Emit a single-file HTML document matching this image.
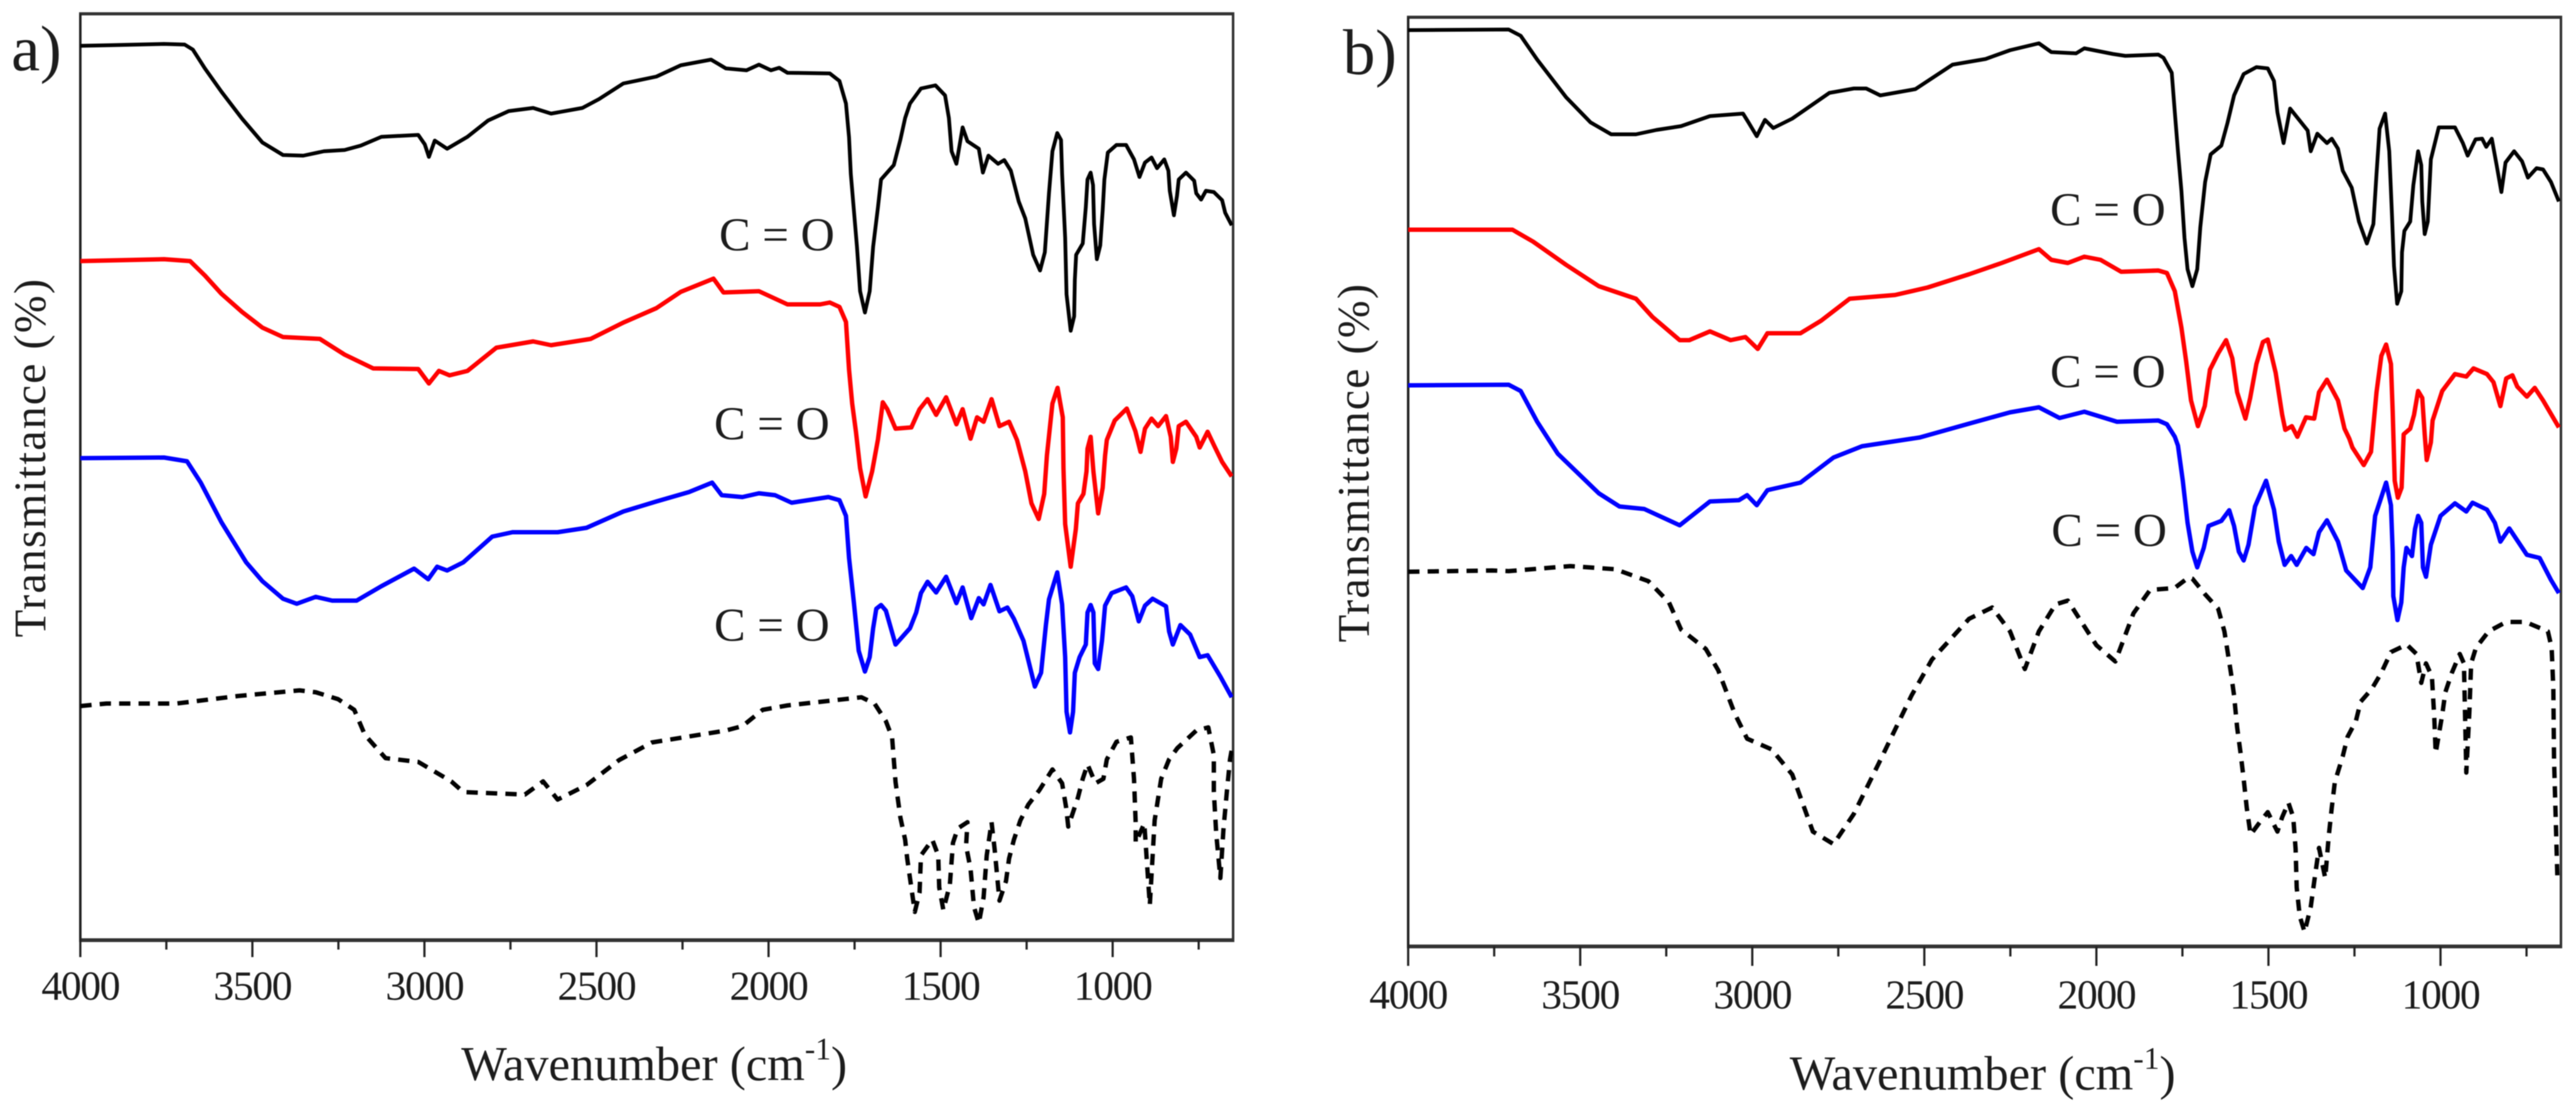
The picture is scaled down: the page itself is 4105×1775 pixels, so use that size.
<!DOCTYPE html>
<html lang="en">
<head>
<meta charset="utf-8">
<title>FTIR spectra panels a and b</title>
<style>
html,body{margin:0;padding:0;background:#fff;}
svg{display:block;filter:blur(0.7px);}
text{font-family:"Liberation Serif",serif;fill:#1c1c1c;}
</style>
</head>
<body>
<svg id="chart" width="4105" height="1775" viewBox="0 0 4105 1775" xmlns="http://www.w3.org/2000/svg">
  <rect width="4105" height="1775" fill="#fff"/>
  <defs>
    <clipPath id="clip-a"><rect x="128" y="22" width="1837" height="1476"/></clipPath>
    <clipPath id="clip-b"><rect x="2244" y="27" width="1837" height="1481"/></clipPath>
  </defs>
  <g id="panel-a"></g>
  <g id="panel-b"></g>

  <text x="18" y="112" font-size="103">a)</text>
  <text x="2140" y="118" font-size="103">b)</text>

  <text x="735" y="1721" font-size="77">Wavenumber (cm<tspan dy="-33" font-size="50">-1</tspan><tspan dy="33">)</tspan></text>
  <text x="2852" y="1736" font-size="77">Wavenumber (cm<tspan dy="-33" font-size="50">-1</tspan><tspan dy="33">)</tspan></text>

  <text transform="translate(72 730) rotate(-90)" text-anchor="middle" font-size="72" textLength="571">Transmittance (%)</text>
  <text transform="translate(2181 738) rotate(-90)" text-anchor="middle" font-size="72" textLength="571">Transmittance (%)</text>

  <text x="1146" y="399" font-size="75">C = O</text>
  <text x="1138" y="700" font-size="75">C = O</text>
  <text x="1138" y="1021" font-size="75">C = O</text>
  <text x="3267" y="359" font-size="75">C = O</text>
  <text x="3267" y="617" font-size="75">C = O</text>
  <text x="3269" y="870" font-size="75">C = O</text>
</svg>
<script>
const majorTickLabels = [4000, 3500, 3000, 2500, 2000, 1500, 1000];
const minorTickValues = [3750, 3250, 2750, 2250, 1750, 1250, 750];

const aBlackWn = [4000,3912,3757,3697,3673,3638,3590,3530,3471,3411,3352,3292,3232,3185,3125,3018,2999,2987,2970,2934,2875,2815,2755,2684,2632,2541,2493,2422,2326,2255,2167,2124,2064,2028,1993,1969,1945,1822,1794,1775,1766,1761,1752,1743,1734,1720,1706,1696,1682,1673,1636,1617,1603,1589,1557,1515,1487,1476,1468,1454,1436,1422,1389,1377,1361,1333,1315,1296,1273,1254,1231,1211,1197,1185,1175,1161,1150,1147,1138,1134,1122,1112,1110,1106,1087,1078,1073,1064,1057,1054,1046,1036,1029,1024,1014,989,961,938,922,906,887,871,850,838,834,822,813,808,787,763,757,743,729,706,682,673,654];
const aBlackT = [1425,1426,1428,1427,1419,1389,1352,1309,1271,1251,1250,1257,1259,1266,1280,1283,1268,1248,1274,1261,1280,1306,1321,1326,1317,1326,1340,1365,1376,1394,1403,1389,1386,1395,1386,1390,1382,1381,1369,1333,1279,1221,1163,1105,1034,1000,1034,1105,1168,1212,1235,1275,1310,1333,1357,1362,1346,1310,1257,1237,1295,1273,1261,1223,1250,1237,1243,1226,1177,1150,1092,1067,1096,1190,1257,1286,1275,1221,1119,1029,971,994,1052,1092,1110,1168,1212,1223,1203,1141,1085,1107,1163,1212,1255,1267,1267,1244,1216,1239,1247,1230,1244,1226,1194,1155,1186,1212,1223,1210,1190,1180,1194,1192,1179,1159,1139];

const aRedWn = [4000,3757,3681,3638,3590,3530,3471,3411,3304,3232,3149,3018,2987,2958,2927,2875,2791,2684,2632,2517,2422,2326,2255,2160,2131,2028,1945,1850,1822,1794,1775,1766,1757,1746,1734,1718,1699,1682,1668,1655,1631,1585,1561,1538,1513,1484,1454,1436,1413,1394,1375,1352,1329,1301,1278,1254,1236,1215,1199,1191,1175,1160,1145,1143,1138,1122,1107,1101,1085,1076,1073,1064,1056,1042,1029,1022,1017,994,959,934,919,906,887,868,845,831,825,815,808,787,757,747,724,705,682,654];
const aRedT = [1082,1085,1082,1059,1030,1001,976,961,958,933,911,910,887,907,900,907,944,954,948,958,984,1007,1033,1054,1032,1034,1013,1013,1016,1009,985,909,855,810,752,707,747,798,857,846,815,817,846,862,837,865,822,846,799,833,826,862,819,826,797,747,696,671,711,772,855,880,833,752,663,595,655,696,711,747,783,802,747,680,721,772,797,828,847,811,778,815,831,819,835,802,762,783,819,826,802,785,810,788,762,739];

const aBlueWn = [4000,3757,3690,3650,3590,3518,3471,3411,3371,3316,3268,3197,3125,3030,2989,2963,2934,2887,2803,2744,2613,2529,2422,2326,2231,2164,2136,2076,2028,1981,1933,1826,1794,1775,1766,1752,1738,1720,1706,1696,1687,1673,1659,1631,1589,1571,1557,1538,1513,1484,1454,1436,1411,1389,1375,1355,1329,1306,1287,1259,1226,1208,1194,1185,1161,1147,1138,1134,1124,1115,1110,1096,1078,1073,1064,1056,1052,1042,1031,1022,1003,961,943,924,906,884,845,836,825,803,775,747,724,687,654];
const aBlueT = [768,769,763,729,666,602,572,544,536,547,541,541,564,592,575,595,589,602,643,650,650,657,683,699,714,729,709,706,712,709,697,706,701,676,609,538,461,428,451,497,528,534,525,471,497,522,553,571,554,579,537,562,513,545,535,566,524,530,512,477,404,426,502,543,586,535,451,364,331,364,426,451,471,522,534,522,441,432,477,533,553,562,548,508,533,544,532,492,471,502,487,451,454,420,387];

const aDashWn = [4000,3924,3721,3542,3363,3316,3251,3204,3173,3113,3018,2922,2887,2708,2655,2613,2529,2434,2339,2124,2076,2017,1945,1730,1692,1659,1641,1636,1631,1617,1603,1597,1589,1575,1561,1557,1524,1507,1504,1492,1473,1464,1450,1422,1426,1413,1403,1389,1375,1366,1352,1343,1329,1310,1301,1287,1268,1245,1213,1175,1147,1135,1129,1101,1087,1073,1050,1027,1017,989,947,938,933,933,908,892,878,859,836,812,757,722,706,706,699,687,678,668,659,654];
const aDashT = [373,377,377,389,398,395,384,367,327,290,284,253,236,232,253,224,247,287,315,334,341,367,374,387,377,349,323,288,252,196,160,130,99,45,76,135,160,135,84,48,89,155,178,188,150,114,53,27,68,135,188,145,63,94,130,160,191,216,239,272,250,211,181,227,257,280,250,257,288,316,323,257,186,155,186,56,191,257,288,306,334,339,295,237,170,99,176,237,288,303];

const bBlackWn = [4000,3708,3673,3625,3541,3470,3410,3338,3278,3207,3123,3027,3011,2987,2963,2939,2884,2776,2705,2669,2628,2526,2418,2322,2251,2167,2131,2059,2035,1952,1916,1820,1805,1781,1772,1763,1753,1744,1735,1721,1707,1698,1684,1668,1637,1619,1600,1572,1535,1502,1484,1474,1456,1437,1386,1377,1358,1330,1316,1298,1284,1258,1237,1214,1195,1186,1177,1161,1149,1141,1135,1126,1114,1112,1105,1088,1079,1065,1056,1053,1046,1037,1028,1005,958,935,921,898,879,867,851,837,823,811,786,763,746,721,702,679,656];
const bBlackT = [1460,1461,1451,1413,1353,1313,1294,1294,1301,1307,1323,1327,1313,1291,1317,1304,1319,1360,1367,1367,1356,1366,1405,1414,1428,1439,1425,1423,1431,1422,1419,1421,1416,1392,1329,1267,1204,1129,1079,1052,1079,1146,1218,1262,1276,1312,1356,1390,1401,1399,1379,1329,1280,1335,1300,1267,1295,1280,1287,1271,1236,1209,1155,1120,1151,1231,1303,1327,1267,1164,1084,1024,1044,1106,1140,1155,1213,1267,1245,1187,1135,1155,1254,1305,1305,1280,1260,1286,1287,1274,1287,1245,1202,1249,1267,1251,1225,1240,1238,1218,1187];

const bRedWn = [4000,3697,3637,3541,3446,3338,3290,3211,3183,3123,3063,3020,2984,2956,2860,2800,2717,2585,2490,2370,2275,2167,2131,2083,2035,1988,1928,1820,1795,1772,1753,1739,1725,1705,1685,1670,1646,1623,1605,1591,1567,1553,1535,1516,1502,1479,1460,1451,1432,1416,1391,1367,1353,1330,1298,1279,1265,1256,1223,1202,1186,1172,1158,1144,1139,1133,1124,1113,1107,1088,1077,1065,1053,1046,1040,1028,1023,995,958,925,904,865,846,826,809,791,777,749,726,702,656];
const bRedT = [1142,1142,1123,1086,1052,1032,1003,966,966,980,966,971,952,977,977,997,1032,1038,1050,1071,1089,1111,1094,1089,1099,1094,1075,1077,1073,1044,986,932,870,829,861,919,945,966,937,883,841,874,928,963,967,914,847,823,829,812,843,841,883,903,870,825,809,795,767,788,883,941,959,928,852,742,715,731,816,825,847,885,874,816,775,803,838,885,912,908,921,912,899,861,905,910,892,876,890,870,827];

const bBlueWn = [4000,3708,3673,3625,3565,3446,3386,3314,3211,3123,3039,3015,2987,2956,2860,2764,2681,2513,2370,2251,2167,2107,2035,1940,1820,1795,1772,1763,1749,1735,1721,1707,1688,1674,1637,1614,1600,1586,1572,1558,1539,1507,1484,1470,1453,1434,1418,1390,1369,1353,1330,1298,1274,1226,1204,1190,1158,1144,1139,1137,1125,1114,1107,1099,1083,1074,1065,1056,1051,1042,1028,1000,958,925,907,865,842,826,800,749,712,679,656];
const bBlueT = [894,895,885,836,785,722,701,697,671,709,711,719,703,727,739,779,797,811,833,851,859,842,852,836,838,832,812,798,742,675,629,604,635,670,678,695,670,629,615,640,701,742,696,645,608,622,608,635,625,660,679,645,599,571,604,686,739,703,629,558,520,548,604,635,622,665,686,675,604,589,640,686,706,693,707,696,675,645,666,624,619,584,563];

const bDashWn = [4000,3756,3708,3529,3398,3302,3242,3207,3135,3099,3051,3015,2944,2884,2824,2764,2705,2633,2537,2478,2370,2303,2251,2208,2167,2119,2083,2000,1945,1892,1844,1773,1732,1721,1684,1646,1628,1619,1609,1600,1591,1581,1572,1563,1552,1525,1502,1474,1460,1442,1428,1421,1418,1409,1395,1377,1363,1353,1335,1325,1316,1307,1284,1270,1246,1232,1200,1172,1144,1098,1070,1056,1042,1025,1018,1014,995,986,967,944,932,925,916,911,897,860,809,753,688,677,672,670,660];
const bDashT = [597,599,598,606,601,582,548,505,474,440,371,331,314,274,183,163,211,291,400,457,522,540,502,442,502,545,551,480,454,531,568,571,588,586,561,538,502,471,436,400,349,308,267,221,178,198,214,183,206,229,206,155,94,48,23,63,119,157,109,175,221,262,303,334,359,390,410,436,469,481,466,420,451,430,364,308,369,405,436,466,451,277,374,451,476,502,517,517,502,476,410,298,104];

const NS = 'http://www.w3.org/2000/svg';

function makePanelScales(left, right, top, bottom, yMax) {
  return {
    x: function (wn) { return left + (4000 - wn) * (right - left) / (4000 - 650); },
    y: function (t) { return bottom - t * (bottom - top) / yMax; }
  };
}

function seriesPath(scales, wn, t) {
  let d = '';
  for (let i = 0; i < wn.length; i++) {
    d += (i ? 'L' : 'M') + scales.x(wn[i]).toFixed(1) + ' ' + scales.y(t[i]).toFixed(1);
  }
  return d;
}

function addLine(parent, x1, y1, x2, y2, color, width) {
  const l = document.createElementNS(NS, 'line');
  l.setAttribute('x1', x1);
  l.setAttribute('y1', y1);
  l.setAttribute('x2', x2);
  l.setAttribute('y2', y2);
  l.setAttribute('stroke', color);
  l.setAttribute('stroke-width', width);
  parent.appendChild(l);
  return l;
}

function addSeries(parent, clipId, scales, wn, t, color, width, dash) {
  const p = document.createElementNS(NS, 'path');
  p.setAttribute('d', seriesPath(scales, wn, t));
  p.setAttribute('fill', 'none');
  p.setAttribute('stroke', color);
  p.setAttribute('stroke-width', width);
  p.setAttribute('stroke-linejoin', 'round');
  p.setAttribute('clip-path', 'url(#' + clipId + ')');
  if (dash) p.setAttribute('stroke-dasharray', dash);
  parent.appendChild(p);
  return p;
}

function drawAxes(parent, left, right, top, bottom, scales, labelY, majorLen, minorLen) {
  const frameTop = addLine(parent, left - 2, top, right + 2, top, '#333', 5);
  
  
  const frameBottom = addLine(parent, left - 2, bottom, right + 2, bottom, '#333', 6);
  
  
  const frameLeft = addLine(parent, left, top, left, bottom, '#222', 4);
  
  
  const frameRight = addLine(parent, right, top, right, bottom, '#333', 4);
  
  

  majorTickLabels.forEach(function (v) {
    const tick = addLine(parent, scales.x(v), bottom, scales.x(v), bottom + majorLen, '#222', 3.5);
    
    
    const label = document.createElementNS(NS, 'text');
    label.setAttribute('x', scales.x(v));
    label.setAttribute('y', labelY);
    label.setAttribute('text-anchor', 'middle');
    label.setAttribute('font-size', '66');
    label.setAttribute('letter-spacing', '-2');
    label.textContent = String(v);
    
    
    parent.appendChild(label);
  });
  minorTickValues.forEach(function (v) {
    const tick = addLine(parent, scales.x(v), bottom, scales.x(v), bottom + minorLen, '#222', 3.5);
    
    
  });
}

const panelA = document.getElementById('panel-a');
const scalesA = makePanelScales(128, 1965, 22, 1498, 1476);
const panelB = document.getElementById('panel-b');
const scalesB = makePanelScales(2244, 4081, 27.5, 1508, 1480.5);

drawAxes(panelA, 128, 1965, 22, 1498, scalesA, 1593, 27, 15);
drawAxes(panelB, 2244, 4081, 27.5, 1508, scalesB, 1607, 31, 16);

const DASH = '18 13';

const sA1 = addSeries(panelA, 'clip-a', scalesA, aBlackWn, aBlackT, '#000', 6);


const sA2 = addSeries(panelA, 'clip-a', scalesA, aRedWn, aRedT, '#f00', 7);


const sA3 = addSeries(panelA, 'clip-a', scalesA, aBlueWn, aBlueT, '#00f', 7);


const sA4 = addSeries(panelA, 'clip-a', scalesA, aDashWn, aDashT, '#000', 7, DASH);



const sB1 = addSeries(panelB, 'clip-b', scalesB, bBlackWn, bBlackT, '#000', 6);


const sB2 = addSeries(panelB, 'clip-b', scalesB, bRedWn, bRedT, '#f00', 7);


const sB3 = addSeries(panelB, 'clip-b', scalesB, bBlueWn, bBlueT, '#00f', 7);


const sB4 = addSeries(panelB, 'clip-b', scalesB, bDashWn, bDashT, '#000', 7, DASH);


</script>
</body>
</html>
